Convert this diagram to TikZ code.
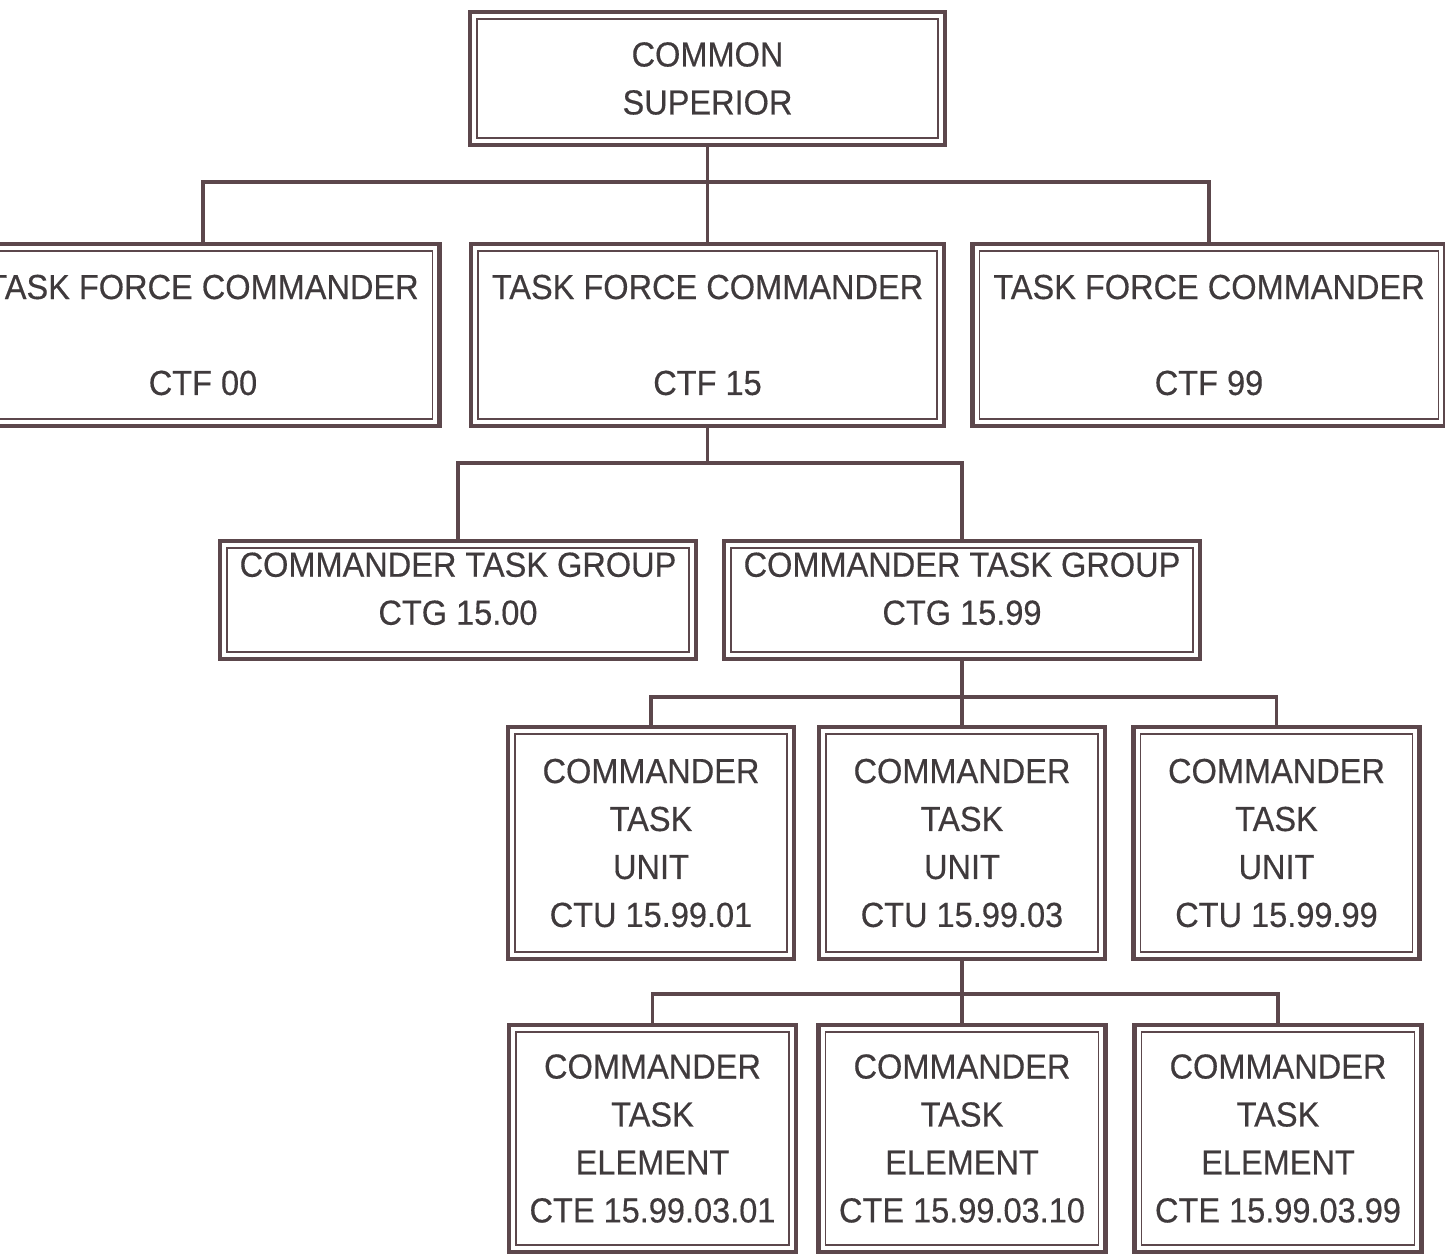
\documentclass[tikz,border=0pt]{standalone}
\usepackage{fontspec}
\setmainfont{Liberation Sans}[FakeStretch=0.935,FakeBold=0.4]
\usetikzlibrary{calc}
\definecolor{ink}{HTML}{5C474C}
\definecolor{inktext}{HTML}{3F3A3C}
\tikzset{
  orgbox/.style={rectangle,draw=ink,line width=2.6pt,inner sep=0pt,align=center,
    text=inktext,font=\fontsize{19.8pt}{27.3pt}\selectfont,
    path picture={\draw[ink,line width=1pt]
      ([shift={(0.14cm,0.14cm)}]path picture bounding box.south west) rectangle
      ([shift={(-0.14cm,-0.14cm)}]path picture bounding box.north east);}},
  link/.style={draw=ink,line width=2.1pt}
}

\begin{document}
\begin{tikzpicture}[x=0.02cm,y=-0.02cm]
  \clip (0,0) rectangle (1445,1256);
  % top
  \node[orgbox,minimum width=9.5cm,minimum height=2.66cm] (cs) at (707.5,78.5)
    {COMMON\\SUPERIOR};
  % task forces
  \foreach \x/\name/\lab in {203/tf00/00,707.5/tf15/15,1209/tf99/99}
    \node[orgbox,minimum width=9.46cm,minimum height=3.64cm] (\name) at (\x,335)
      {TASK FORCE COMMANDER\\[27.3pt]CTF \lab};
  % task groups
  \foreach \x/\name/\lab in {458/tg00/15.00,962/tg99/15.99}
    \node[orgbox,minimum width=9.52cm,minimum height=2.36cm,text depth=13pt] (\name) at (\x,600)
      {COMMANDER TASK GROUP\\CTG \lab};
  % task units
  \foreach \x/\name/\lab in {651/tu01/01,962/tu03/03,1276.5/tu99/99}
    \node[orgbox,minimum width=5.72cm,minimum height=4.64cm] (\name) at (\x,843)
      {COMMANDER\\TASK\\UNIT\\CTU 15.99.\lab};
  % task elements
  \foreach \x/\name/\lab in {652.5/te01/01,962/te10/10,1278/te99/99}
    \node[orgbox,minimum width=5.74cm,minimum height=4.54cm] (\name) at (\x,1138.5)
      {COMMANDER\\TASK\\ELEMENT\\CTE 15.99.03.\lab};

  \coordinate (bar1) at (707.5,182);
  \coordinate (bar2) at (707.5,463);
  \coordinate (bar3) at (962,697);
  \coordinate (bar4) at (962,994);

  \draw[link] (cs.south) -- (bar1);
  \draw[link] (tf00.north) |- (bar1) -| (tf99.north);
  \draw[link] (bar1) -- (tf15.north);

  \draw[link] (tf15.south) -- (bar2);
  \draw[link] (tg00.north) |- (bar2) -| (tg99.north);

  \draw[link] (tg99.south) -- (bar3);
  \draw[link] (tu01.north) |- (bar3) -| (tu99.north);
  \draw[link] (bar3) -- (tu03.north);

  \draw[link] (tu03.south) -- (bar4);
  \draw[link] (te01.north) |- (bar4) -| (te99.north);
  \draw[link] (bar4) -- (te10.north);
\end{tikzpicture}
\end{document}
